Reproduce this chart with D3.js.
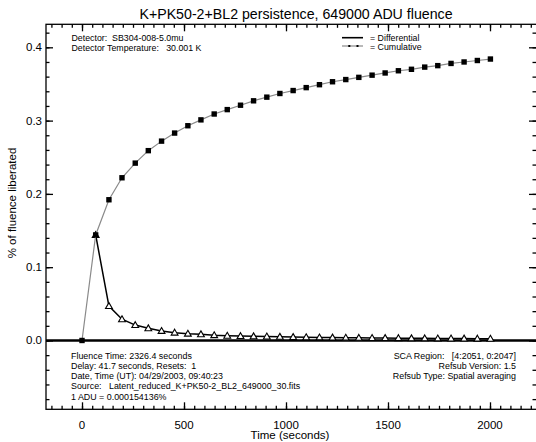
<!DOCTYPE html>
<html><head><meta charset="utf-8">
<script src="https://cdn.jsdelivr.net/npm/d3@7"></script>
<style>body{margin:0;background:#fff}svg{display:block;font-family:"Liberation Sans",Arial,sans-serif}</style>
</head><body>
<script>
const times = [0, 67, 132, 196, 261, 325, 390, 454, 519, 583, 648, 712, 777, 841, 906, 970, 1035, 1099, 1164, 1228, 1293, 1357, 1422, 1486, 1551, 1615, 1680, 1744, 1809, 1873, 1938, 2002];
const cumulative = [0, 0.144, 0.192, 0.222, 0.242, 0.259, 0.272, 0.283, 0.293, 0.301, 0.309, 0.315, 0.321, 0.327, 0.332, 0.337, 0.341, 0.345, 0.349, 0.353, 0.356, 0.359, 0.362, 0.365, 0.368, 0.370, 0.373, 0.375, 0.378, 0.380, 0.382, 0.384];
const differential = [null, 0.144, 0.047, 0.029, 0.021, 0.0166, 0.013, 0.0107, 0.0093, 0.0084, 0.0072, 0.0065, 0.006, 0.0057, 0.0054, 0.005, 0.0047, 0.0044, 0.0042, 0.004, 0.0038, 0.0036, 0.0034, 0.0033, 0.0032, 0.003, 0.0029, 0.0028, 0.0027, 0.0026, 0.0025, 0.0024];
const xTicks = [0, 500, 1000, 1500, 2000];
const yTicks = [0.0, 0.1, 0.2, 0.3, 0.4];
const title = "K+PK50-2+BL2 persistence, 649000 ADU fluence";
const xTitle = "Time (seconds)";
const yTitle = "% of fluence liberated";
const infoTopLeft = ["Detector:  SB304-008-5.0mu", "Detector Temperature:   30.001 K"];
const legendLabels = ["= Differential", "= Cumulative"];
const infoBottomLeft = ["Fluence Time: 2326.4 seconds", "Delay: 41.7 seconds, Resets:  1", "Date, Time (UT): 04/29/2003, 09:40:23", "Source:   Latent_reduced_K+PK50-2_BL2_649000_30.fits", "1 ADU = 0.000154136%"];
const infoBottomRight = ["SCA Region:   [4:2051, 0:2047]", "Refsub Version: 1.5", "Refsub Type: Spatial averaging"];

const W = 536, H = 442;
const L = 46, R = 537, T = 24.3, B = 409.3;
const svg = d3.select("body").append("svg").attr("width", W).attr("height", H);
const x = d3.scaleLinear().domain([-176.5, 2230.4]).range([L, R]);
const y = d3.scaleLinear().domain([-0.0939, 0.4314]).range([B, T]);

// frame
svg.append("rect").attr("x", L).attr("y", T).attr("width", R - L).attr("height", B - T)
  .attr("fill", "none").attr("stroke", "#000").attr("stroke-width", 1.3);

// axes
const xMinor = d3.range(-150, 2231, 50);
const yMinor = d3.range(-0.08, 0.431, 0.02);
function addAxis(axisFn, scale, tickVals, size, pos) {
  const g = svg.append("g").attr("transform", pos)
    .call(axisFn(scale).tickValues(tickVals).tickSize(size).tickSizeOuter(0).tickFormat(""));
  g.select(".domain").remove();
  g.selectAll("line").attr("stroke", "#000").attr("stroke-width", 1.3);
  return g;
}
addAxis(d3.axisTop, x, xMinor, 3.5, `translate(0,${B})`);
addAxis(d3.axisTop, x, xTicks, 7, `translate(0,${B})`);
addAxis(d3.axisBottom, x, xMinor, 3.5, `translate(0,${T})`);
addAxis(d3.axisBottom, x, xTicks, 7, `translate(0,${T})`);
addAxis(d3.axisRight, y, yMinor, 3.5, `translate(${L},0)`);
addAxis(d3.axisRight, y, yTicks, 7, `translate(${L},0)`);
addAxis(d3.axisLeft, y, yMinor, 3.5, `translate(${R - 1},0)`);
addAxis(d3.axisLeft, y, yTicks, 7, `translate(${R - 1},0)`);

// tick labels
svg.append("g").selectAll("text").data(xTicks).join("text")
  .attr("x", d => x(d)).attr("y", 428.5).attr("text-anchor", "middle")
  .attr("font-size", 11.5).text(d => d);
svg.append("g").selectAll("text").data(yTicks).join("text")
  .attr("x", 42).attr("y", d => y(d) + 4).attr("text-anchor", "end")
  .attr("font-size", 11.5).text(d => d.toFixed(1));

// titles
svg.append("text").attr("x", 296).attr("y", 19).attr("text-anchor", "middle")
  .attr("font-size", 14.2).text(title);
svg.append("text").attr("x", 290).attr("y", 439).attr("text-anchor", "middle")
  .attr("font-size", 11.5).text(xTitle);
svg.append("text").attr("transform", "translate(16,203) rotate(-90)").attr("text-anchor", "middle")
  .attr("font-size", 11.5).text(yTitle);

// zero line
svg.append("line").attr("x1", L).attr("x2", R).attr("y1", y(0)).attr("y2", y(0))
  .attr("stroke", "#000").attr("stroke-width", 2.6);

const pts = times.map((t, i) => ({t, c: cumulative[i], d: differential[i]}));
// differential
const dPts = pts.filter(p => p.d !== null);
svg.append("path").datum(dPts)
  .attr("d", d3.line().x(p => x(p.t)).y(p => y(p.d)))
  .attr("fill", "none").attr("stroke", "#000").attr("stroke-width", 1.5);
const tri = d3.symbol().type(d3.symbolTriangle).size(20);
svg.append("g").selectAll("path").data(dPts).join("path")
  .attr("d", tri).attr("transform", p => `translate(${x(p.t)},${y(p.d) + 0.5})`)
  .attr("fill", "#fff").attr("stroke", "#000").attr("stroke-width", 1.1);

// cumulative
svg.append("path").datum(pts)
  .attr("d", d3.line().x(p => x(p.t)).y(p => y(p.c)))
  .attr("fill", "none").attr("stroke", "#8a8a8a").attr("stroke-width", 1.2);
svg.append("g").selectAll("rect").data(pts).join("rect")
  .attr("x", p => x(p.t) - 2.7).attr("y", p => y(p.c) - 2.7)
  .attr("width", 5.4).attr("height", 5.4).attr("fill", "#000");

// legend
svg.append("line").attr("x1", 342).attr("x2", 363).attr("y1", 37.7).attr("y2", 37.7)
  .attr("stroke", "#000").attr("stroke-width", 1.6);
svg.append("line").attr("x1", 342).attr("x2", 363).attr("y1", 46).attr("y2", 46)
  .attr("stroke", "#8a8a8a").attr("stroke-width", 1.2);
svg.append("g").selectAll("rect").data([349.3, 357.5]).join("rect")
  .attr("x", d => d - 1).attr("y", 45).attr("width", 2).attr("height", 2).attr("fill", "#000");
svg.append("g").selectAll("text").data(legendLabels).join("text")
  .attr("x", 370).attr("y", (d, i) => 41 + i * 9.2).attr("font-size", 8.8).text(d => d);

// info text
svg.append("g").selectAll("text").data(infoTopLeft).join("text")
  .attr("x", 71.5).attr("y", (d, i) => 40.5 + i * 10.3).attr("font-size", 8.8)
  .style("white-space", "pre").text(d => d);
svg.append("g").selectAll("text").data(infoBottomLeft).join("text")
  .attr("x", 71).attr("y", (d, i) => 358.7 + i * 10.2).attr("font-size", 8.9)
  .style("white-space", "pre").text(d => d);
svg.append("g").selectAll("text").data(infoBottomRight).join("text")
  .attr("x", 516).attr("y", (d, i) => 358.7 + i * 10.2).attr("font-size", 8.9)
  .attr("text-anchor", "end").style("white-space", "pre").text(d => d);
</script>
</body></html>
